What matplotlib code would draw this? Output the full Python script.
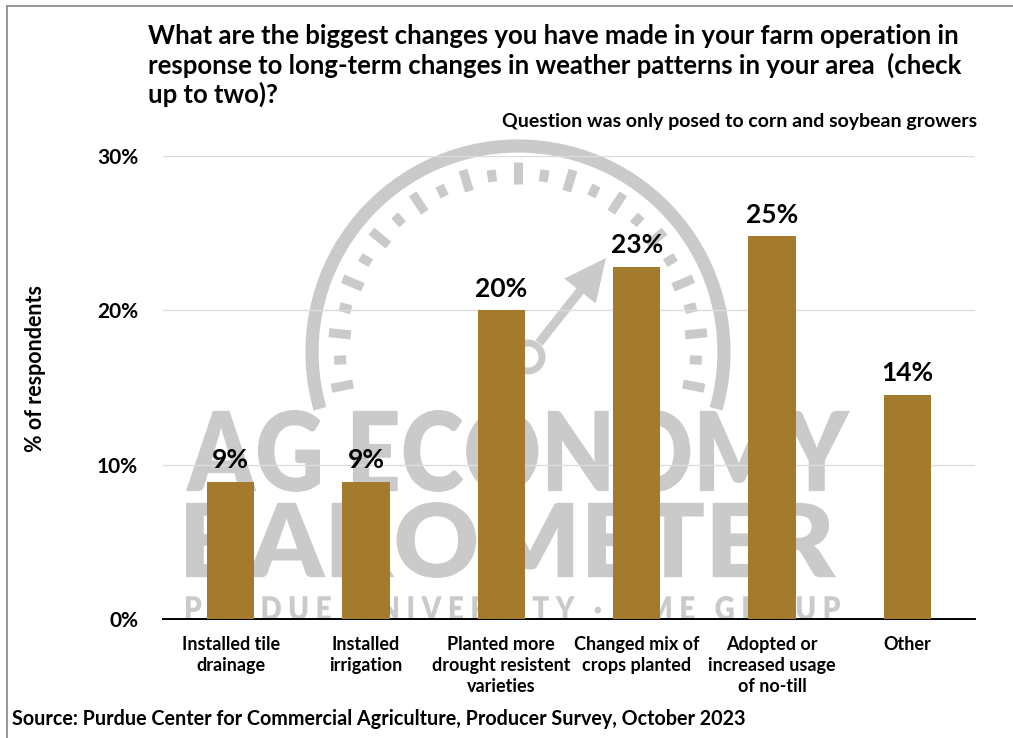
import matplotlib
matplotlib.use("Agg")
import matplotlib.pyplot as plt
import numpy as np
from matplotlib.patches import Arc, Circle, PathPatch, FancyArrow
from matplotlib.textpath import TextPath
from matplotlib.font_manager import FontProperties
from matplotlib.transforms import Affine2D

categories = ["Installed tile\ndrainage", "Installed\nirrigation",
              "Planted more\ndrought resistent\nvarieties", "Changed mix of\ncrops planted",
              "Adopted or\nincreased usage\nof no-till", "Other"]
values = [8.9, 8.9, 20.0, 22.8, 24.8, 14.5]
labels = ["9%", "9%", "20%", "23%", "25%", "14%"]
yticks = [0, 10, 20, 30]
ytick_labels = ["0%", "10%", "20%", "30%"]

title = ("What are the biggest changes you have made in your farm operation in\n"
         "response to long-term changes in weather patterns in your area  (check\n"
         "up to two)?")
note = "Question was only posed to corn and soybean growers"
source = "Source: Purdue Center for Commercial Agriculture, Producer Survey, October 2023"

FONT = "Lato"
plt.rcParams['font.family'] = [FONT, 'DejaVu Sans']
W, H = 1013, 738
BAR = '#A47A2D'
GRAY = '#CACACA'

fig = plt.figure(figsize=(W / 100, H / 100), dpi=100)
fig.patch.set_facecolor('white')

# background / watermark axes in pixel coords (y up)
bg = fig.add_axes([0, 0, 1, 1], zorder=0)
bg.set_xlim(0, W)
bg.set_ylim(0, H)
bg.axis('off')

def py(y):
    return H - y

# border
bg.plot([7, 7], [0, py(6)], color='#888888', lw=1.2)
bg.plot([7, W], [py(6), py(6)], color='#888888', lw=1.2)

# gauge
cx, cy, r = 518, py(352), 206
bg.add_patch(Arc((cx, cy), 2 * r, 2 * r, theta1=-16, theta2=196, color=GRAY, lw=9.5))
angs = np.linspace(-11, 191, 25)
for i, a in enumerate(angs):
    t = np.deg2rad(a)
    r1, r2 = (168, 190) if i % 2 == 0 else (172, 184)
    bg.plot([cx + r1 * np.cos(t), cx + r2 * np.cos(t)],
            [cy + r1 * np.sin(t), cy + r2 * np.sin(t)],
            color=GRAY, lw=6.5, solid_capstyle='butt')
hx, hy = 528, py(357)
bg.add_patch(Circle((hx, hy), 14, fill=False, ec=GRAY, lw=5))
tipx, tipy = 606, py(258)
d = np.array([tipx - hx, tipy - hy])
L = np.hypot(*d)
u = d / L
sx, sy = hx + u[0] * 18, hy + u[1] * 18
bg.add_patch(FancyArrow(sx, sy, tipx - sx, tipy - sy, width=9, head_width=40,
                        head_length=42, length_includes_head=True, color=GRAY, lw=0))

def fit_text(s, x0, x1, ytop, ybot, weight='bold'):
    fp = FontProperties(family=FONT, weight=weight)
    tp = TextPath((0, 0), s, prop=fp, size=100)
    bb = tp.get_extents()
    sxs = (x1 - x0) / bb.width
    sys_ = (ybot - ytop) / bb.height
    tr = Affine2D().translate(-bb.x0, -bb.y0).scale(sxs, sys_).translate(x0, py(ybot))
    bg.add_patch(PathPatch(tr.transform_path(tp), fc=GRAY, ec='none'))

fit_text("AG ECONOMY", 186, 850, 410, 492, weight='heavy')
fit_text("BAROMETER", 186, 836, 502, 578, weight='heavy')
fit_text("P U R D U E   U N I V E R S I T Y   ·   C M E   G R O U P", 186, 840, 596, 620, weight='heavy')

# main axes
ax = fig.add_axes([163 / W, 1 - 619 / H, (975 - 163) / W, (619 - 156) / H], zorder=1)
ax.set_facecolor('none')
x = np.arange(len(categories))
bars = ax.bar(x, values, width=0.35, color=BAR, zorder=3)
ax.set_xlim(-0.5, len(categories) - 0.5)
ax.set_ylim(0, 30)
ax.set_yticks(yticks)
ax.set_yticklabels(ytick_labels, fontsize=15, fontweight='bold')
ax.yaxis.grid(True, color='#DDDDDD', lw=1)
ax.set_axisbelow(True)
for s in ['top', 'right', 'left']:
    ax.spines[s].set_visible(False)
ax.spines['bottom'].set_color('black')
ax.spines['bottom'].set_linewidth(1.4)
ax.tick_params(axis='y', length=0, pad=18)
ax.tick_params(axis='x', length=0, pad=12)
ax.set_xticks(x)
ax.set_xticklabels(categories, fontsize=13, fontweight='bold', linespacing=1.3)
for xi, v, lab in zip(x, values, labels):
    ax.annotate(lab, (xi, v), xytext=(0, 7), textcoords='offset points',
                ha='center', va='bottom', fontsize=19, fontweight='bold')

ax.set_ylabel("% of respondents", fontsize=15.5, fontweight='bold', labelpad=0)
ax.yaxis.set_label_coords((46 - 163) / (975 - 163), (619 - 368) / (619 - 156))

fig.text(148 / W, 1 - 24 / H, title, ha='left', va='top', fontsize=18.5,
         fontweight='bold', linespacing=1.2)
fig.text(977 / W, 1 - 122 / H, note, ha='right', va='center', fontsize=14,
         fontweight='bold')
fig.text(12 / W, 1 - 719 / H, source, ha='left', va='center', fontsize=14.2,
         fontweight='bold')

fig.savefig("out.png", dpi=100, facecolor='white')
